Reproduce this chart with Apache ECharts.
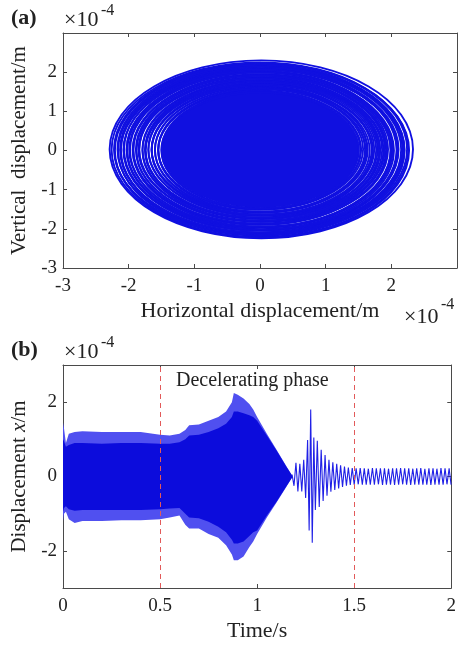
<!DOCTYPE html>
<html>
<head>
<meta charset="utf-8">
<script src="https://cdn.jsdelivr.net/npm/echarts@6.0.0/dist/echarts.min.js"></script>
<style>
    html, body { margin: 0; padding: 0; background: #fff; }
    #main { width: 459px; height: 648px; }
</style>
</head>
<body>
<div id="main"></div>
<script>
// (a) orbit: rings [rx, ry, cx, cy] in 1e-4 m
const orbitRings = [
    [2.31, 2.27, 0.02, 0.03], [2.26, 2.23, 0.00, 0.02], [2.24, 2.22, 0.03, 0.00],
    [2.23, 2.20, 0.01, 0.03], [2.21, 2.18, -0.01, 0.02], [2.18, 2.16, 0.02, 0.00],
    [2.17, 2.15, 0.00, 0.03], [2.15, 2.13, 0.03, 0.01], [2.14, 2.12, 0.01, 0.02],
    [2.11, 2.09, -0.01, 0.00], [2.09, 2.07, 0.02, 0.03], [2.08, 2.06, 0.00, 0.01],
    [2.06, 2.04, 0.03, 0.02], [2.03, 2.01, 0.01, 0.00], [2.02, 2.00, -0.01, 0.03],
    [2.00, 1.98, 0.02, 0.01], [1.99, 1.97, 0.00, 0.02], [1.96, 1.94, 0.03, 0.00],
    [1.94, 1.92, 0.01, 0.03], [1.93, 1.91, -0.01, 0.01], [1.91, 1.89, 0.02, 0.02],
    [1.88, 1.86, 0.00, 0.00], [1.87, 1.85, 0.03, 0.03], [1.85, 1.83, 0.01, 0.01],
    [1.84, 1.82, -0.01, 0.02], [1.81, 1.79, 0.02, 0.00], [1.79, 1.77, 0.00, 0.03],
    [1.78, 1.76, 0.03, 0.01], [1.76, 1.74, 0.01, 0.02], [1.73, 1.71, -0.01, 0.00],
    [1.72, 1.70, 0.02, 0.03], [1.70, 1.68, 0.00, 0.01], [1.68, 1.66, 0.03, 0.02],
    [1.66, 1.64, 0.01, 0.00], [1.64, 1.62, -0.01, 0.03], [1.62, 1.60, 0.02, 0.01],
    [1.60, 1.58, 0.00, 0.02], [1.58, 1.56, 0.03, 0.00], [1.56, 1.54, 0.01, 0.03],
    [1.54, 1.52, -0.01, 0.01], [1.52, 1.50, 0.02, 0.02], [1.50, 1.48, 0.00, 0.00]
];
const orbitCore = [[1.50, 1.48, 0.01, 0.02]];

// (b) time history envelope (dense part), 1e-4 m
const envT     = [0, 0.005, 0.015, 0.03, 0.06, 0.1, 0.2, 0.3, 0.4, 0.5, 0.55, 0.6, 0.63, 0.65, 0.7, 0.75, 0.8, 0.84, 0.87, 0.88, 0.9, 0.93, 0.96, 0.98, 1.0, 1.05, 1.1, 1.15, 1.18];
const outerUp  = [1.45, 1.3, 0.9, 1.15, 1.2, 1.22, 1.2, 1.2, 1.2, 1.12, 1.1, 1.15, 1.25, 1.38, 1.4, 1.5, 1.6, 1.75, 2.0, 2.25, 2.2, 2.1, 1.95, 1.8, 1.6, 1.15, 0.72, 0.28, 0.03];
const outerLo  = [-1.2, -1.0, -0.95, -1.15, -1.25, -1.2, -1.2, -1.18, -1.18, -1.15, -1.1, -1.05, -1.3, -1.4, -1.4, -1.55, -1.65, -1.85, -2.1, -2.25, -2.25, -2.15, -1.9, -1.75, -1.55, -1.1, -0.7, -0.28, -0.03];
const innerUp  = [1.0, 0.95, 0.8, 0.85, 0.9, 0.9, 0.88, 0.9, 0.9, 0.88, 0.88, 0.92, 1.0, 1.1, 1.12, 1.2, 1.3, 1.42, 1.6, 1.75, 1.75, 1.7, 1.65, 1.6, 1.5, 1.1, 0.7, 0.27, 0.03];
const innerLo  = [-0.95, -0.85, -0.8, -0.88, -0.92, -0.9, -0.9, -0.9, -0.9, -0.88, -0.86, -0.85, -1.0, -1.1, -1.12, -1.22, -1.35, -1.5, -1.7, -1.8, -1.8, -1.75, -1.6, -1.5, -1.45, -1.05, -0.68, -0.27, -0.03];

// (b) visible oscillation after the node [t, x]
const tailPts = [
    [1.180, 0.05], [1.190, -0.25], [1.200, 0.37], [1.210, -0.40], [1.220, 0.34], [1.230, -0.40], [1.240, 0.45], [1.250, -0.58],
    [1.260, 0.98], [1.268, -1.45], [1.276, 1.80], [1.284, -1.78], [1.292, 1.05], [1.300, -0.90], [1.310, 0.96], [1.320, -0.82],
    [1.330, 0.72], [1.340, -0.66], [1.350, 0.58], [1.360, -0.52], [1.370, 0.45], [1.380, -0.41], [1.390, 0.38], [1.400, -0.36],
    [1.410, 0.34], [1.420, -0.32], [1.430, 0.30], [1.440, -0.28], [1.450, 0.27], [1.460, -0.25], [1.470, 0.24], [1.480, -0.23],
    [1.490, 0.23], [1.500, -0.22], [1.510, 0.22], [1.521, -0.21], [1.531, 0.23], [1.542, -0.22], [1.552, 0.22], [1.562, -0.22],
    [1.573, 0.21], [1.583, -0.22], [1.594, 0.23], [1.604, -0.22], [1.614, 0.22], [1.625, -0.21], [1.635, 0.22], [1.646, -0.23],
    [1.656, 0.22], [1.666, -0.22], [1.677, 0.21], [1.687, -0.22], [1.698, 0.22], [1.708, -0.23], [1.718, 0.22], [1.729, -0.22],
    [1.739, 0.23], [1.750, -0.21], [1.760, 0.22], [1.770, -0.22], [1.781, 0.22], [1.791, -0.23], [1.802, 0.21], [1.812, -0.22],
    [1.822, 0.22], [1.833, -0.22], [1.843, 0.23], [1.854, -0.22], [1.864, 0.21], [1.874, -0.22], [1.885, 0.22], [1.895, -0.23],
    [1.906, 0.22], [1.916, -0.22], [1.926, 0.21], [1.937, -0.22], [1.947, 0.23], [1.958, -0.22], [1.968, 0.22], [1.978, -0.21],
    [1.989, 0.22], [1.999, -0.22]
];
const phaseLines = [0.5, 1.5];

// ticks / labels
const aTicks = [-3, -2, -1, 0, 1, 2, 3];
const aLabels = [-3, -2, -1, 0, 1, 2];
const bTicksX = [0, 0.5, 1, 1.5, 2];
const bTicksY = [-2, 0, 2];

const serif = 'Liberation Serif';
const axisCol = '#4a4a4a';
const txtCol = '#222';
const blue = '#1010e0';

let myChart = echarts.init(document.getElementById('main'), null, { renderer: 'canvas' });

let mkAxis = (grid, min, max, pos, ticks, labels, name, nameGap, rotate, nameSize) => ({
    type: 'value', gridIndex: grid, min: min, max: max, position: pos,
    name: name || '', nameLocation: 'middle', nameGap: nameGap || 0, nameRotate: rotate,
    nameTextStyle: {
        fontFamily: serif, fontSize: nameSize || 21, color: txtCol,
        rich: {
            n: { fontFamily: serif, fontSize: nameSize || 21, color: txtCol },
            i: { fontFamily: serif, fontSize: nameSize || 21, color: txtCol, fontStyle: 'italic' }
        }
    },
    splitLine: { show: false },
    axisLine: { show: true, onZero: false, lineStyle: { color: axisCol, width: 1 } },
    axisTick: { show: true, inside: true, length: 4, customValues: ticks, lineStyle: { color: axisCol } },
    axisLabel: labels ? {
        show: true, customValues: labels, fontFamily: serif, fontSize: 19, color: txtCol,
        margin: (pos === 'left') ? 6 : 9
    } : { show: false }
});

// 椭圆轨迹
let ellipseSeries = (data, filled) => ({
    type: 'custom', xAxisIndex: 0, yAxisIndex: 0, silent: true, clip: true,
    data: data,
    renderItem: function (params, api) {
        let c = api.coord([api.value(2), api.value(3)]);
        let s = api.size([api.value(0) * 2, api.value(1) * 2]);
        return {
            type: 'ellipse',
            shape: { cx: c[0], cy: c[1], rx: s[0] / 2, ry: s[1] / 2 },
            style: filled ? { fill: blue, stroke: blue, lineWidth: 1 } : { fill: 'none', stroke: blue, lineWidth: 1.9 }
        };
    }
});

// 包络带
let bandSeries = (up, lo, color) => ({
    type: 'custom', xAxisIndex: 2, yAxisIndex: 2, silent: true, clip: true,
    data: [[0, 0]],
    renderItem: function (params, api) {
        let pts = [];
        for (let i = 0; i < envT.length; i++) pts.push(api.coord([envT[i], up[i]]));
        for (let i = envT.length - 1; i >= 0; i--) pts.push(api.coord([envT[i], lo[i]]));
        return { type: 'polygon', shape: { points: pts }, style: { fill: color } };
    }
});

let txt = (x, y, s, size, weight) => ({
    type: 'text', left: x, top: y, silent: true,
    style: { text: s, fontFamily: serif, fontSize: size, fontWeight: weight || 'normal', fill: txtCol }
});

myChart.setOption({
    animation: false,
    backgroundColor: '#fff',
    grid: [
        { left: 63, top: 33, right: 2, height: 235 },
        { left: 63, top: 365, right: 2, height: 223 }
    ],
    xAxis: [
        mkAxis(0, -3, 3, 'bottom', aTicks, aLabels, 'Horizontal displacement/m', 32, 0, 22),
        mkAxis(0, -3, 3, 'top', aTicks, null),
        mkAxis(1, 0, 2, 'bottom', bTicksX, bTicksX, 'Time/s', 32, 0, 22),
        mkAxis(1, 0, 2, 'top', bTicksX, null)
    ],
    yAxis: [
        mkAxis(0, -3, 3, 'left', aTicks, aLabels, 'Vertical  displacement/m', 30, 90, 21),
        mkAxis(0, -3, 3, 'right', aTicks, null),
        mkAxis(1, -3, 3, 'left', bTicksY, bTicksY, '{n|Displacement }{i|x}{n|/m}', 30, 90, 21),
        mkAxis(1, -3, 3, 'right', bTicksY, null)
    ],
    graphic: [
        txt(11, 7, '(a)', 22, 'bold'),
        txt(64, 9, '×10', 22),
        txt(101, 3, '-4', 16),
        txt(404, 306, '×10', 22),
        txt(441, 297, '-4', 16),
        txt(11, 339, '(b)', 22, 'bold'),
        txt(64, 341, '×10', 22),
        txt(101, 335, '-4', 16),
        txt(176, 371, 'Decelerating phase', 20)
    ],
    series: [
        ellipseSeries(orbitCore, true),
        ellipseSeries(orbitRings, false),
        bandSeries(outerUp, outerLo, '#5050f0'),
        bandSeries(innerUp, innerLo, '#0c0cdc'),
        {
            type: 'line', xAxisIndex: 2, yAxisIndex: 2,
            data: tailPts, showSymbol: false, symbol: 'none', silent: true,
            lineStyle: { color: '#2020e6', width: 1.1 },
            markLine: {
                silent: true, symbol: 'none', label: { show: false }, z: 10,
                lineStyle: { color: '#e25a5a', type: [5, 4], width: 1 },
                data: phaseLines.map(v => ({ xAxis: v }))
            }
        }
    ]
});
</script>
</body>
</html>
